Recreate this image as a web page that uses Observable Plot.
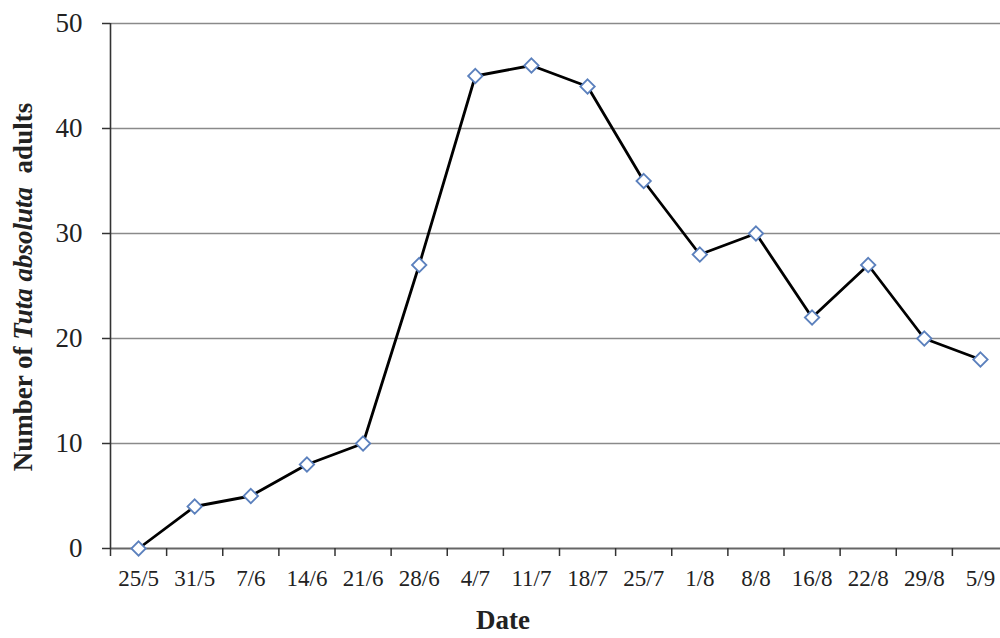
<!DOCTYPE html>
<html>
<head>
<meta charset="utf-8">
<script src="https://cdn.jsdelivr.net/npm/d3@7"></script>
<script src="https://cdn.jsdelivr.net/npm/@observablehq/plot@0.6"></script>
<style>
  html, body { margin: 0; padding: 0; background: #fff; overflow: hidden; }
  #chart { width: 1000px; height: 638px; }
</style>
</head>
<body>
<div id="chart"></div>
<script>
const dates = ["25/5","31/5","7/6","14/6","21/6","28/6","4/7","11/7","18/7","25/7","1/8","8/8","16/8","22/8","29/8","5/9"];
const adults = [0, 4, 5, 8, 10, 27, 45, 46, 44, 35, 28, 30, 22, 27, 20, 18];
const yTicks = [0, 10, 20, 30, 40, 50];

const data = dates.map((d, i) => ({i, date: d, value: adults[i]}));
const idx = dates.map((d, i) => i);
const bounds = d3.range(dates.length + 1).map(i => i - 0.5);

const plot = Plot.plot({
  width: 1000,
  height: 638,
  marginLeft: 110,
  marginRight: 0,
  marginTop: 23,
  marginBottom: 90,
  style: {fontFamily: "'Liberation Serif', 'Times New Roman', serif", color: "#222", background: "#fff"},
  x: {type: "linear", domain: [-0.5, dates.length - 0.5], range: [110, 1008]},
  y: {domain: [0, 50]},
  marks: [
    Plot.ruleY(yTicks.filter(v => v > 0), {stroke: "#8a8a8a", strokeWidth: 1.6}),
    Plot.ruleY([0], {stroke: "#666", strokeWidth: 1.8}),
    Plot.ruleX([bounds[0]], {y1: 0, y2: 50, stroke: "#333", strokeWidth: 1.6}),
    Plot.axisY({ticks: yTicks, tickSize: 8, tickPadding: 20, fontSize: 27, stroke: "#333", strokeWidth: 1.5, label: null}),
    Plot.axisX({ticks: bounds, tickSize: 8, tickFormat: () => "", stroke: "#333", strokeWidth: 1.5, label: null}),
    Plot.axisX({ticks: idx, tickSize: 0, tickPadding: 21, fontSize: 23, tickFormat: i => dates[i], label: null}),
    Plot.line(data, {x: "i", y: "value", stroke: "#000", strokeWidth: 2.8}),
    Plot.dot(data, {x: "i", y: "value", symbol: "diamond2", r: 6.5, fill: "#fff", stroke: "#5b80bd", strokeWidth: 1.8})
  ]
});

const svg = d3.select(plot);
const yt = svg.append("text")
  .attr("transform", "translate(32,287) rotate(-90)")
  .attr("text-anchor", "middle")
  .attr("font-family", "'Liberation Serif', 'Times New Roman', serif")
  .attr("font-size", 27)
  .attr("font-weight", "bold")
  .attr("fill", "#222");
yt.append("tspan").text("Number of ");
yt.append("tspan").attr("font-style", "italic").text("Tuta absoluta");
yt.append("tspan").text("\u00a0 adults");

svg.append("text")
  .attr("x", 503)
  .attr("y", 629)
  .attr("text-anchor", "middle")
  .attr("font-family", "'Liberation Serif', 'Times New Roman', serif")
  .attr("font-size", 27)
  .attr("font-weight", "bold")
  .attr("fill", "#222")
  .text("Date");

document.getElementById("chart").appendChild(plot);
</script>
</body>
</html>
